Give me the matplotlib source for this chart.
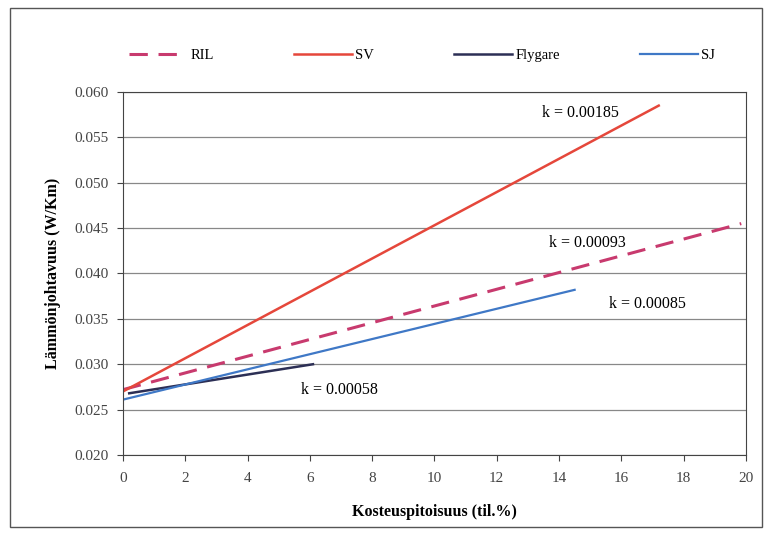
import matplotlib.pyplot as plt
from matplotlib.patches import Rectangle

# Moisture content (vol-%) vs thermal conductivity (W/Km), line end points
ril_x = [0.0, 19.85]
ril_y = [0.0272, 0.0455]
sv_x = [0.0, 17.2]
sv_y = [0.0270, 0.0585]
flygare_x = [0.2, 6.1]
flygare_y = [0.0268, 0.0300]
sj_x = [0.0, 14.5]
sj_y = [0.0261, 0.0382]

k_labels = ["k = 0.00185", "k = 0.00093", "k = 0.00085", "k = 0.00058"]
k_x = [14.7, 14.9, 16.85, 6.95]
k_y = [0.0577, 0.0434, 0.0366, 0.0272]

plt.rcParams['font.family'] = ['Liberation Serif', 'DejaVu Serif']

fig = plt.figure(figsize=(7.71, 5.38), dpi=100)
fig.patch.set_facecolor('white')
fig.patches.append(Rectangle((0.013, 0.02), 0.975, 0.965, transform=fig.transFigure,
                             fill=False, edgecolor='#555555', linewidth=1.0))
ax = fig.add_axes([0.1595, 0.1543, 0.808, 0.6747])

ax.plot(ril_x, ril_y, color='#c83a6e', linewidth=2.2, dashes=(6, 3.5), label='RIL')
ax.plot(sv_x, sv_y, color='#e5473b', linewidth=1.8, label='SV')
ax.plot(flygare_x, flygare_y, color='#2c2f55', linewidth=1.8, label='Flygare')
ax.plot(sj_x, sj_y, color='#3f78c6', linewidth=1.6, label='SJ')

for lab, x, y in zip(k_labels, k_x, k_y):
    ax.text(x, y, lab, fontsize=11.5, ha='center', va='center')

ax.set_xlim(0, 20)
ax.set_ylim(0.020, 0.060)
ax.set_xticks(range(0, 21, 2))
ax.set_yticks([0.020, 0.025, 0.030, 0.035, 0.040, 0.045, 0.050, 0.055, 0.060])
ax.set_yticklabels([f"{v:.3f}" for v in ax.get_yticks()])
ax.yaxis.grid(True, color='#888888', linewidth=0.9)
ax.set_axisbelow(True)
ax.tick_params(labelsize=11, colors='#444444', length=4)
ax.tick_params(axis='x', pad=8)
ax.tick_params(axis='y', pad=6)
for s in ax.spines.values():
    s.set_color('#444444')

ax.set_xlabel("Kosteuspitoisuus (til.%)", fontsize=11.5, fontweight='bold', labelpad=14)
ax.set_ylabel("Lämmönjohtavuus (W/Km)", fontsize=11.5, fontweight='bold', labelpad=10)

ax.legend(loc='center', bbox_to_anchor=(0.48, 1.1), ncol=4, frameon=False,
          fontsize=10.5, handlelength=4.0, columnspacing=5.5, handletextpad=0.2)

plt.savefig("out.png", dpi=100)
plt.close()
